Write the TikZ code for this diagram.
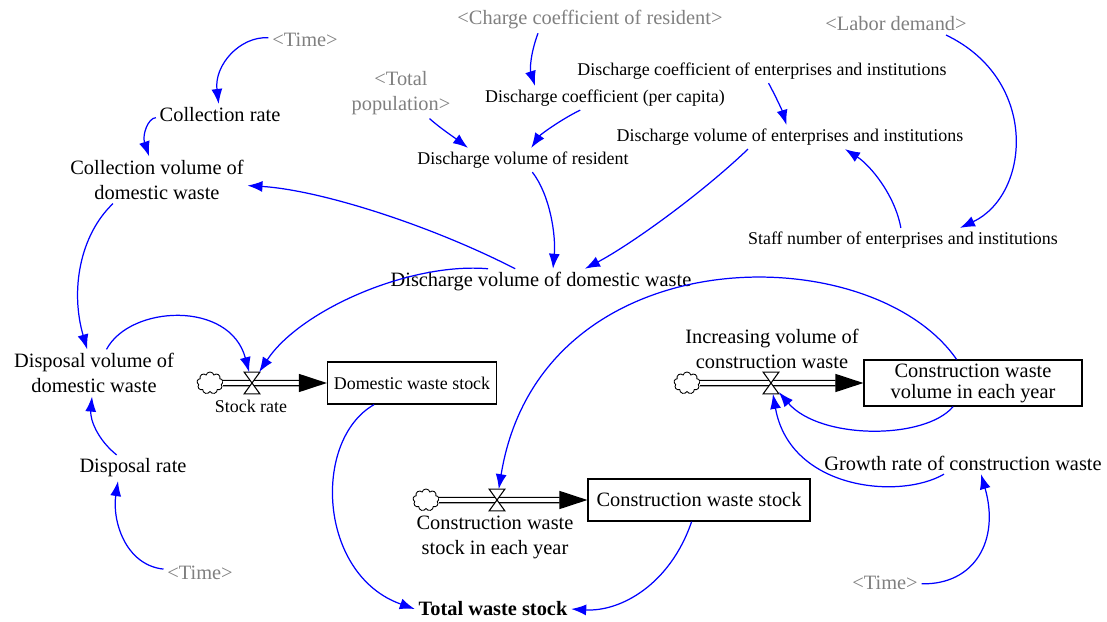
\documentclass[tikz,border=0pt]{standalone}
\usepackage{fontspec}
\setmainfont{Liberation Serif}
\usetikzlibrary{arrows.meta,shapes.symbols,calc}

\begin{document}
\begin{tikzpicture}[x=0.02cm,y=-0.02cm,>={Latex[length=0.3cm,width=0.22cm]},
  var/.style={align=center,inner sep=2pt,font=\fontsize{11.6}{14.2}\selectfont},
  svar/.style={align=center,inner sep=2pt,font=\fontsize{10.2}{12}\selectfont},
  shadow/.style={var,text=black!50},
  level/.style={draw,line width=0.7pt,inner sep=2pt,align=center},
  valve/.style={minimum width=0.3cm,minimum height=0.42cm,inner sep=0pt},
  valvebody/.style={draw,fill=white,line width=0.6pt},
  source/.style={cloud,cloud puffs=9,aspect=1.2,draw,line width=0.5pt,minimum width=0.52cm,minimum height=0.44cm,inner sep=0pt},
  pipe/.style={double=white,double distance=2.2pt,line width=0.75pt,-{Triangle[length=0.56cm,width=0.36cm]}},
  link/.style={blue,line width=0.7pt,->}]
\useasboundingbox (0,0) rectangle (1107,622);

\node[shadow] (ttop) at (305,40) {<Time>};
\node[var] (crate) at (220,115) {Collection rate};
\node[var] (cvol) at (157,180) {Collection volume of\\domestic waste};
\node[shadow] (tpop) at (401,93) {<Total\\population>};
\node[shadow] (chcoef) at (590,20) {<Charge coefficient of resident>};
\node[svar] (dcoef) at (605,98) {Discharge coefficient (per capita)};
\node[svar] (dcent) at (762,71) {Discharge coefficient of enterprises and institutions};
\node[shadow] (labor) at (896,24) {<Labor demand>};
\node[svar] (dvres) at (523,160) {Discharge volume of resident};
\node[svar] (dvent) at (790,137) {Discharge volume of enterprises and institutions};
\node[svar] (staff) at (903,240) {Staff number of enterprises and institutions};
\node[var] (dvdw) at (541,282) {Discharge volume of domestic waste};
\node[var] (dvol) at (94,373) {Disposal volume of\\domestic waste};
\node[var] (drate) at (133,468) {Disposal rate};
\node[shadow] (tbl) at (200,573) {<Time>};
\node[var,font=\fontsize{11.6}{14.2}\selectfont\bfseries] (total) at (493,609) {Total waste stock};
\node[var] (growth) at (963,463) {Growth rate of construction waste};
\node[shadow] (tbr) at (885,583) {<Time>};

\node[level,svar,minimum width=3.38cm,minimum height=0.84cm] (dws) at (412,383) {Domestic waste stock};
\node[level,var,minimum width=4.44cm,minimum height=0.84cm] (cws) at (699,500) {Construction waste stock};
\node[level,var,font=\fontsize{11.6}{12}\selectfont,minimum width=4.36cm,minimum height=0.9cm] (cwvol) at (973,383) {Construction waste\\volume in each year};

\node[source] (cl1) at (210,383) {};
\node[source] (cl2) at (426,500) {};
\node[source] (cl3) at (687,383) {};
\node[valve] (v1) at (252,383) {};
\node[valve] (v2) at (497,500) {};
\node[valve] (v3) at (771,383) {};
\node[svar] (srate) at (251,406) {Stock rate};
\node[var] (cwsy) at (495,537) {Construction waste\\stock in each year};
\node[var] (incv) at (772,349) {Increasing volume of\\construction waste};

\draw[pipe] (cl1) -- (dws);
\draw[pipe] (cl2) -- (cws);
\draw[pipe] (cl3) -- (cwvol);
\draw[valvebody] (v1.north west) -- (v1.north east) -- (v1.south west) -- (v1.south east) -- cycle;
\draw[valvebody] (v2.north west) -- (v2.north east) -- (v2.south west) -- (v2.south east) -- cycle;
\draw[valvebody] (v3.north west) -- (v3.north east) -- (v3.south west) -- (v3.south east) -- cycle;

\draw[link] (ttop) .. controls (240,36) and (214,65) .. (crate);
\draw[link] (crate) .. controls (148,118) and (142,135) .. (cvol);
\draw[link] (dvdw) .. controls (430,225) and (320,190) .. (cvol);
\draw[link] ($(cvol.south)+(-44,0)$) .. controls (80,235) and (70,290) .. (dvol);
\draw[link] (dvol) .. controls (130,305) and (230,300) .. (v1);
\draw[link] ($(dvdw.north)+(-53,0)$) .. controls (410,262) and (300,310) .. (v1);
\draw[link] (drate) .. controls (98,440) and (90,420) .. (dvol);
\draw[link] (tbl) .. controls (125,565) and (112,520) .. ($(drate.south)+(-15,0)$);
\draw[link] (dws) .. controls (312,440) and (318,575) .. (total.west);
\draw[link] (cws) .. controls (670,585) and (620,612) .. (total.east);
\draw[link] (dvres) .. controls (550,195) and (556,235) .. ($(dvdw.north)+(12,0)$);
\draw[link] ($(dvent.south)+(-42,0)$) .. controls (700,195) and (630,245) .. ($(dvdw.north)+(44,0)$);
\draw[link] (tpop) .. controls (440,128) and (455,138) .. ($(dvres.north)+(-55,0)$);
\draw[link] (dcoef) .. controls (560,120) and (540,135) .. (dvres);
\draw[link] ($(chcoef.south)+(-52,0)$) .. controls (530,55) and (530,70) .. ($(dcoef.north)+(-70,0)$);
\draw[link] (dcent) .. controls (775,95) and (782,110) .. (dvent);
\draw[link] (staff) .. controls (895,195) and (870,165) .. ($(dvent.south)+(55,0)$);
\draw[link] ($(labor.south)+(50,0)$) .. controls (1040,80) and (1030,195) .. ($(staff.north)+(57,0)$);
\draw[link] (cwvol) .. controls (870,235) and (540,235) .. (v2);
\draw[link] (cwvol) .. controls (925,440) and (820,440) .. (v3);
\draw[link] (growth) .. controls (900,500) and (790,490) .. (v3);
\draw[link] (tbr) .. controls (975,585) and (1000,540) .. ($(growth.south)+(18,0)$);
\end{tikzpicture}
\end{document}
